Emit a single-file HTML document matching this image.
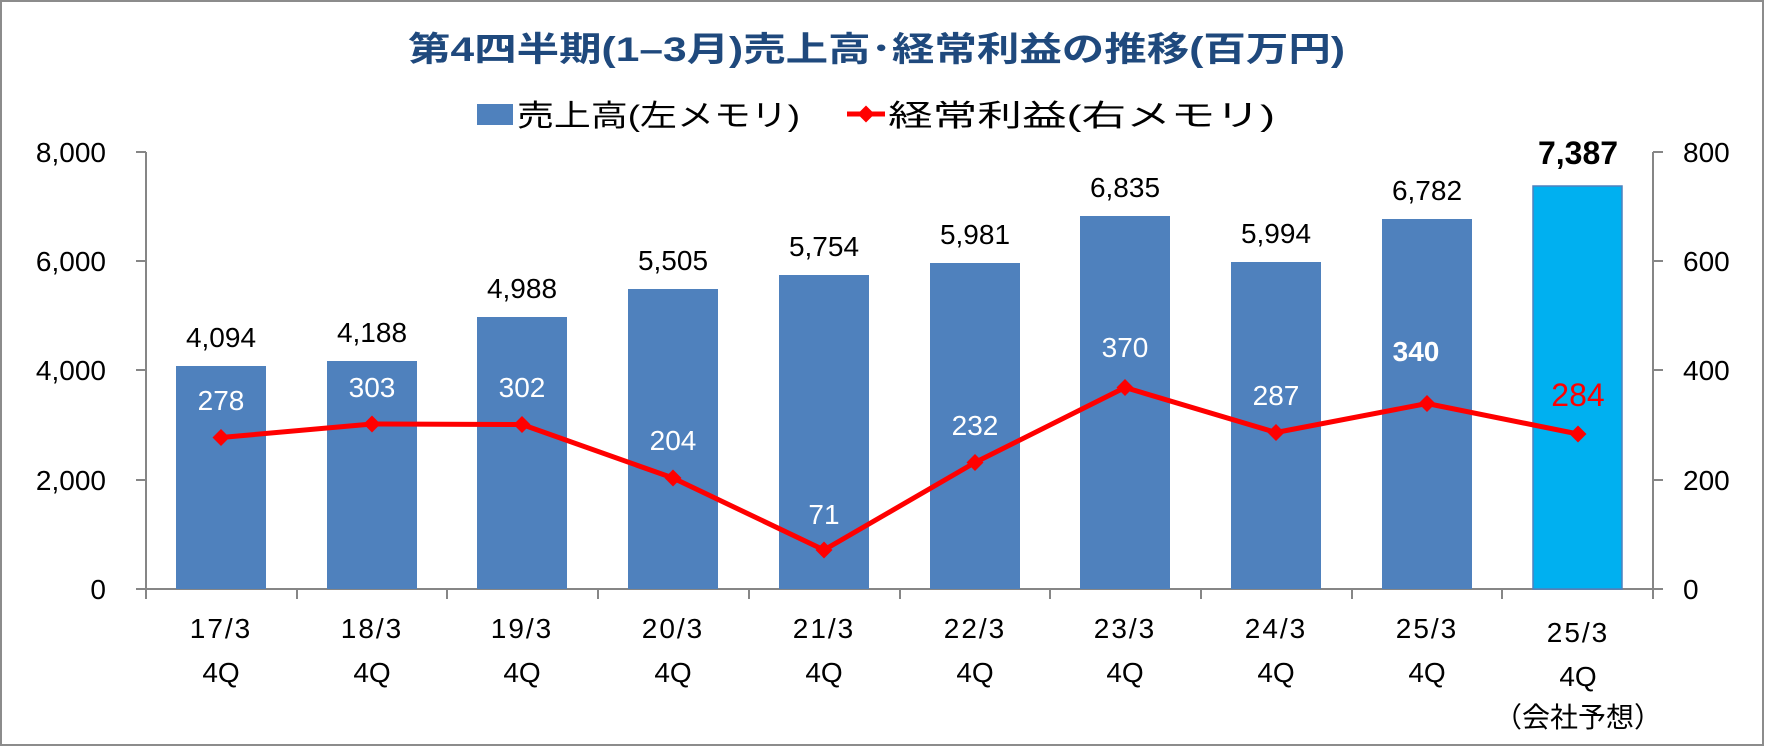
<!DOCTYPE html>
<html><head><meta charset="utf-8"><style>
html,body{margin:0;padding:0;background:#fff}
svg{display:block}
text{font-family:"Liberation Sans","Noto Sans CJK JP",sans-serif}
</style></head><body>
<svg width="1765" height="747" viewBox="0 0 1765 747" xmlns="http://www.w3.org/2000/svg">
<rect x="1" y="1" width="1762" height="744" fill="#fff" stroke="#8c8c8c" stroke-width="2"/>
<text x="408" y="61" font-size="34" font-weight="bold" fill="#1F497D" textLength="937" lengthAdjust="spacingAndGlyphs">第4四半期(1–3月)売上高･経常利益の推移(百万円)</text>
<rect x="477" y="104" width="36" height="21" fill="#4F81BD"/>
<text x="517" y="126" font-size="30" fill="#000" textLength="283" lengthAdjust="spacingAndGlyphs">売上高(左メモリ)</text>
<line x1="847" y1="114" x2="885" y2="114" stroke="#f00" stroke-width="5"/>
<rect x="860" y="108" width="12" height="12" fill="#f00" transform="rotate(45 866 114)"/>
<text x="888" y="126" font-size="30" fill="#000" textLength="387" lengthAdjust="spacingAndGlyphs">経常利益(右メモリ)</text>
<g stroke="#868686" stroke-width="2" fill="none">
<line x1="146" y1="152" x2="146" y2="589"/>
<line x1="1653" y1="152" x2="1653" y2="589"/>
<line x1="136" y1="589" x2="1663" y2="589"/>
<line x1="136" y1="152" x2="146" y2="152"/><line x1="136" y1="261" x2="146" y2="261"/><line x1="136" y1="370" x2="146" y2="370"/><line x1="136" y1="480" x2="146" y2="480"/>
<line x1="1653" y1="152" x2="1663" y2="152"/><line x1="1653" y1="261" x2="1663" y2="261"/><line x1="1653" y1="370" x2="1663" y2="370"/><line x1="1653" y1="480" x2="1663" y2="480"/>
<line x1="146" y1="589" x2="146" y2="599"/><line x1="297" y1="589" x2="297" y2="599"/><line x1="447" y1="589" x2="447" y2="599"/><line x1="598" y1="589" x2="598" y2="599"/><line x1="749" y1="589" x2="749" y2="599"/><line x1="900" y1="589" x2="900" y2="599"/><line x1="1050" y1="589" x2="1050" y2="599"/><line x1="1201" y1="589" x2="1201" y2="599"/><line x1="1352" y1="589" x2="1352" y2="599"/><line x1="1502" y1="589" x2="1502" y2="599"/><line x1="1653" y1="589" x2="1653" y2="599"/>
</g>
<g font-size="28" fill="#000" text-anchor="end">
<text x="106" y="162">8,000</text><text x="106" y="271">6,000</text><text x="106" y="380">4,000</text><text x="106" y="490">2,000</text><text x="106" y="599">0</text>
</g>
<g font-size="28" fill="#000">
<text x="1683" y="162">800</text><text x="1683" y="271">600</text><text x="1683" y="380">400</text><text x="1683" y="490">200</text><text x="1683" y="599">0</text>
</g>
<g fill="#4F81BD">
<rect x="176" y="366" width="90" height="223"/>
<rect x="327" y="361" width="90" height="228"/>
<rect x="477" y="317" width="90" height="272"/>
<rect x="628" y="289" width="90" height="300"/>
<rect x="779" y="275" width="90" height="314"/>
<rect x="930" y="263" width="90" height="326"/>
<rect x="1080" y="216" width="90" height="373"/>
<rect x="1231" y="262" width="90" height="327"/>
<rect x="1382" y="219" width="90" height="370"/>
</g>
<rect x="1533" y="186" width="89" height="403" fill="#00B0F0" stroke="#4F81BD" stroke-width="1.5"/>
<g font-size="28" fill="#000" text-anchor="middle">
<text x="221" y="347">4,094</text><text x="372" y="342">4,188</text><text x="522" y="298">4,988</text><text x="673" y="270">5,505</text><text x="824" y="256">5,754</text><text x="975" y="244">5,981</text><text x="1125" y="197">6,835</text><text x="1276" y="243">5,994</text><text x="1427" y="200">6,782</text>
</g>
<text x="1578" y="164" font-size="32" font-weight="bold" text-anchor="middle" fill="#000">7,387</text>
<polyline points="221,437.5 372,424 522,424.5 673,478 824,550 975,462.5 1125,387.5 1276,432.5 1427,403.5 1578,434" fill="none" stroke="#f00" stroke-width="5" stroke-linejoin="round"/>
<g fill="#f00">
<rect x="-6" y="-6" width="12" height="12" transform="translate(221 437.5) rotate(45)"/>
<rect x="-6" y="-6" width="12" height="12" transform="translate(372 424) rotate(45)"/>
<rect x="-6" y="-6" width="12" height="12" transform="translate(522 424.5) rotate(45)"/>
<rect x="-6" y="-6" width="12" height="12" transform="translate(673 478) rotate(45)"/>
<rect x="-6" y="-6" width="12" height="12" transform="translate(824 550) rotate(45)"/>
<rect x="-6" y="-6" width="12" height="12" transform="translate(975 462.5) rotate(45)"/>
<rect x="-6" y="-6" width="12" height="12" transform="translate(1125 387.5) rotate(45)"/>
<rect x="-6" y="-6" width="12" height="12" transform="translate(1276 432.5) rotate(45)"/>
<rect x="-6" y="-6" width="12" height="12" transform="translate(1427 403.5) rotate(45)"/>
<rect x="-6" y="-6" width="12" height="12" transform="translate(1578 434) rotate(45)"/>
</g>
<g font-size="28" fill="#fff" text-anchor="middle">
<text x="221" y="410">278</text><text x="372" y="397">303</text><text x="522" y="397">302</text><text x="673" y="450">204</text><text x="824" y="524">71</text><text x="975" y="435">232</text><text x="1125" y="357">370</text><text x="1276" y="405">287</text>
<text x="1416" y="361" font-weight="bold">340</text>
</g>
<text x="1578" y="406" font-size="32" fill="#f00" text-anchor="middle">284</text>
<g font-size="28" fill="#000" text-anchor="middle" letter-spacing="2">
<text x="221" y="638">17/3</text><text x="372" y="638">18/3</text><text x="522" y="638">19/3</text><text x="673" y="638">20/3</text><text x="824" y="638">21/3</text><text x="975" y="638">22/3</text><text x="1125" y="638">23/3</text><text x="1276" y="638">24/3</text><text x="1427" y="638">25/3</text><text x="1578" y="642">25/3</text>
</g>
<g font-size="28" fill="#000" text-anchor="middle">
<text x="221" y="682">4Q</text><text x="372" y="682">4Q</text><text x="522" y="682">4Q</text><text x="673" y="682">4Q</text><text x="824" y="682">4Q</text><text x="975" y="682">4Q</text><text x="1125" y="682">4Q</text><text x="1276" y="682">4Q</text><text x="1427" y="682">4Q</text><text x="1578" y="686">4Q</text>
<text x="1578" y="727">（会社予想）</text>
</g>
</svg>
</body></html>
